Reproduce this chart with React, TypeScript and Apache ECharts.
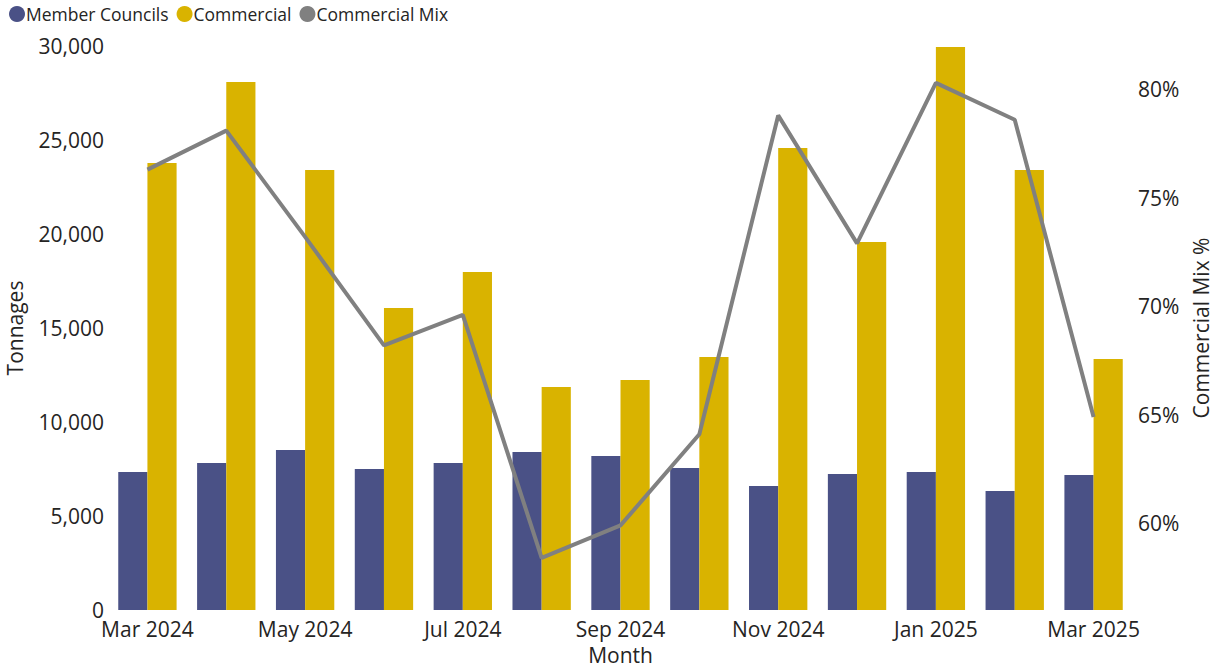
import React, { useEffect, useRef } from "react";
import * as echarts from "echarts";

const months = [
  "Mar 2024", "Apr 2024", "May 2024", "Jun 2024", "Jul 2024", "Aug 2024", "Sep 2024",
  "Oct 2024", "Nov 2024", "Dec 2024", "Jan 2025", "Feb 2025", "Mar 2025",
];
const memberCouncils = [7340, 7820, 8510, 7500, 7820, 8400, 8190, 7550, 6600, 7230, 7340, 6330, 7180];
const commercial = [23780, 28080, 23400, 16060, 17980, 11860, 12230, 13460, 24570, 19570, 29950, 23400, 13350];
const commercialMix = [76.3, 78.1, 73.2, 68.2, 69.6, 58.4, 59.9, 64.1, 78.8, 72.9, 80.3, 78.6, 64.9];

const FONT = "'Open Sans', 'Noto Sans', sans-serif";
const TXT = "#252423";

export default function App() {
  const ref = useRef<HTMLDivElement>(null);
  useEffect(() => {
    if (!ref.current) return;
    const chart = echarts.init(ref.current, undefined, { renderer: "svg" });
    chart.setOption({
      animation: false,
      textStyle: { fontFamily: FONT, color: TXT },
      legend: {
        left: 4,
        top: 0,
        icon: "circle",
        itemWidth: 16,
        itemHeight: 16,
        itemGap: 8,
        textStyle: { fontSize: 17.5, color: TXT, fontFamily: FONT, padding: [0, 0, 0, -4] },
        data: ["Member Councils", "Commercial", "Commercial Mix"],
      },
      grid: { left: 108, right: 80, top: 46, bottom: 56, containLabel: false, outerBoundsMode: "none" },
      xAxis: {
        type: "category",
        data: months,
        name: "Month",
        nameLocation: "middle",
        nameGap: 30,
        nameTextStyle: { fontSize: 21, color: TXT, fontFamily: FONT, lineHeight: 22 },
        axisLine: { show: false },
        axisTick: { show: false },
        axisLabel: { interval: 1, fontSize: 21, color: TXT, margin: 8, fontFamily: FONT },
      },
      yAxis: [
        {
          type: "value",
          min: 0,
          max: 30000,
          interval: 5000,
          name: "Tonnages",
          nameLocation: "middle",
          nameGap: 82,
          nameRotate: 90,
          nameTextStyle: { fontSize: 21, color: TXT, fontFamily: FONT, lineHeight: 22 },
          splitLine: { show: false },
          axisLine: { show: false },
          axisTick: { show: false },
          axisLabel: {
            fontSize: 21,
            color: TXT,
            margin: 4,
            fontFamily: FONT,
            formatter: (v: number) => v.toLocaleString("en-US"),
          },
        },
        {
          type: "value",
          min: 56,
          max: 82,
          interval: 1,
          position: "right",
          name: "Commercial Mix %",
          nameLocation: "middle",
          nameGap: 53,
          nameRotate: 90,
          nameTextStyle: { fontSize: 21, color: TXT, fontFamily: FONT, lineHeight: 22 },
          splitLine: { show: false },
          axisLine: { show: false },
          axisTick: { show: false },
          axisLabel: {
            fontSize: 21,
            color: TXT,
            margin: 5,
            fontFamily: FONT,
            formatter: (v: number) => (v % 5 === 0 ? v + "%" : ""),
          },
        },
      ],
      series: [
        {
          name: "Member Councils",
          type: "bar",
          data: memberCouncils,
          itemStyle: { color: "#4a5186" },
          barGap: "0%",
          barCategoryGap: "26%",
        },
        {
          name: "Commercial",
          type: "bar",
          data: commercial,
          itemStyle: { color: "#d9b300" },
        },
        {
          name: "Commercial Mix",
          type: "line",
          yAxisIndex: 1,
          data: commercialMix,
          symbol: "none",
          lineStyle: { color: "#808080", width: 4 },
          itemStyle: { color: "#808080" },
        },
      ],
    });
    return () => chart.dispose();
  }, []);
  return <div ref={ref} style={{ width: 1213, height: 666, position: "absolute", left: 0, top: 0 }} />;
}
